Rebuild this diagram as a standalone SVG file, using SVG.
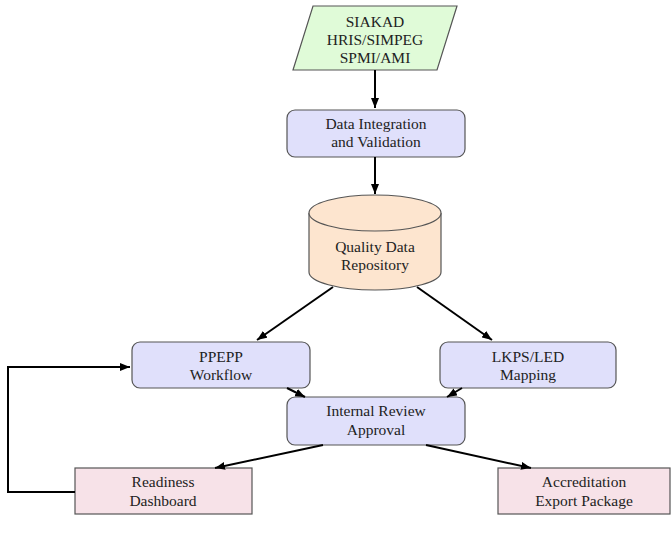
<svg xmlns="http://www.w3.org/2000/svg" width="671" height="549" viewBox="0 0 671 549">
<defs>
<marker id="ah" markerWidth="10" markerHeight="8" refX="10" refY="4" orient="auto" markerUnits="userSpaceOnUse">
<path d="M0,0 L10,4 L0,8 Z" fill="#000"/>
</marker>
<style>
text{font-family:"Liberation Serif","Times New Roman",serif;font-size:15.5px;fill:#222;text-anchor:middle}
.proc{fill:#e0e0fb;stroke:#555;stroke-width:1.2}
.out{fill:#f7e2e8;stroke:#555;stroke-width:1.2}
.edge{fill:none;stroke:#000;stroke-width:2;marker-end:url(#ah)}
</style>
</defs>
<g id="sources">
<polygon points="313,6 457,6 437,70 293,70" fill="#e0fbd8" stroke="#555" stroke-width="1.2"/>
<text x="375" y="27">SIAKAD</text>
<text x="375" y="45">HRIS/SIMPEG</text>
<text x="375" y="63">SPMI/AMI</text>
</g>
<g id="integration">
<rect class="proc" x="287" y="110" width="178" height="47" rx="8"/>
<text x="376" y="129">Data Integration</text>
<text x="376" y="147">and Validation</text>
</g>
<g id="repository">
<path d="M309,213 L309,272 A66,18 0 0 0 441,272 L441,213" fill="#fde5cf" stroke="#555" stroke-width="1.2"/>
<ellipse cx="375" cy="213" rx="66" ry="18" fill="#fde5cf" stroke="#555" stroke-width="1.2"/>
<text x="375" y="252">Quality Data</text>
<text x="375" y="270">Repository</text>
</g>
<g id="ppepp">
<rect class="proc" x="132" y="342" width="178" height="46" rx="8"/>
<text x="221" y="362">PPEPP</text>
<text x="221" y="380">Workflow</text>
</g>
<g id="lkps">
<rect class="proc" x="440" y="342" width="176" height="46" rx="8"/>
<text x="528" y="362">LKPS/LED</text>
<text x="528" y="380">Mapping</text>
</g>
<g id="review">
<rect class="proc" x="287" y="397" width="178" height="48" rx="8"/>
<text x="376" y="416">Internal Review</text>
<text x="376" y="435">Approval</text>
</g>
<g id="dashboard">
<rect class="out" x="75" y="468" width="177" height="46"/>
<text x="163" y="487">Readiness</text>
<text x="163" y="506">Dashboard</text>
</g>
<g id="export">
<rect class="out" x="498" y="468" width="172" height="46"/>
<text x="584" y="487">Accreditation</text>
<text x="584" y="506">Export Package</text>
</g>
<g id="connectors">
<line class="edge" x1="375" y1="70" x2="375" y2="108"/>
<line class="edge" x1="375" y1="157" x2="375" y2="194"/>
<line class="edge" x1="333" y1="287" x2="257" y2="340"/>
<line class="edge" x1="417" y1="287" x2="492" y2="340"/>
<line class="edge" x1="287" y1="388" x2="305" y2="397"/>
<line class="edge" x1="462" y1="388" x2="447" y2="397"/>
<line class="edge" x1="323" y1="445" x2="215" y2="468"/>
<line class="edge" x1="426" y1="445" x2="531" y2="468"/>
<polyline class="edge" points="75,492 8,492 8,367 130,367"/>
</g>
</svg>
